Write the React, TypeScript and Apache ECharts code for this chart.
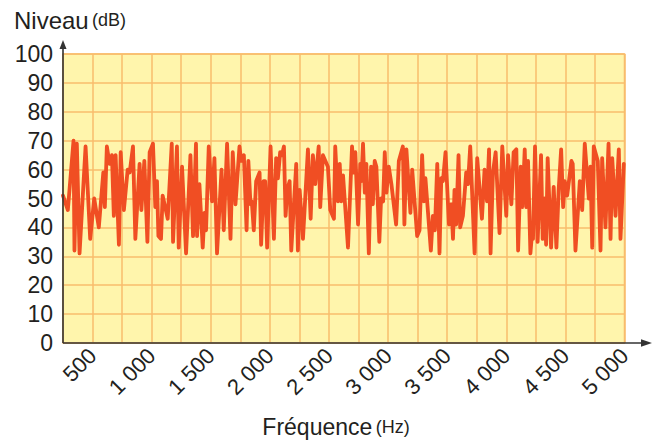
import React, { useEffect, useRef } from "react";
import * as echarts from "echarts";

const freq = [
  250, 291, 339, 347, 367, 390, 441, 480, 514, 553, 591, 604, 621, 644, 664, 680, 695, 723, 738, 765,
  797, 814, 842, 862, 898, 913, 938, 964, 983, 1011, 1031, 1045, 1057, 1079, 1093, 1136, 1170, 1181, 1214, 1229,
  1257, 1291, 1328, 1350, 1375, 1384, 1404, 1432, 1447, 1460, 1483, 1511, 1531, 1553, 1591, 1610, 1638, 1667, 1686, 1709,
  1743, 1757, 1780, 1803, 1818, 1836, 1847, 1864, 1884, 1913, 1926, 1947, 1960, 1977, 2006, 2034, 2053, 2068, 2087, 2102,
  2119, 2133, 2147, 2167, 2181, 2223, 2237, 2252, 2280, 2322, 2345, 2364, 2384, 2413, 2426, 2449, 2491, 2511, 2542, 2553,
  2576, 2591, 2604, 2619, 2661, 2695, 2709, 2723, 2746, 2765, 2774, 2788, 2803, 2816, 2837, 2856, 2871, 2887, 2901, 2926,
  2941, 2958, 2972, 2986, 3006, 3028, 3068, 3091, 3125, 3138, 3155, 3189, 3204, 3246, 3266, 3288, 3303, 3316, 3362, 3379,
  3396, 3416, 3435, 3450, 3464, 3486, 3515, 3535, 3549, 3562, 3576, 3596, 3610, 3633, 3661, 3676, 3695, 3732, 3754, 3794,
  3816, 3837, 3854, 3867, 3887, 3910, 3943, 3966, 4000, 4015, 4043, 4062, 4085, 4100, 4122, 4136, 4156, 4170, 4184, 4204,
  4218, 4226, 4243, 4265, 4294, 4308, 4322, 4337, 4350, 4379, 4401, 4424, 4443, 4464, 4481, 4494, 4515, 4551, 4562, 4585,
  4622, 4642, 4664, 4698, 4712, 4727, 4740, 4774, 4797, 4811, 4839, 4865, 4882, 4896, 4924, 4952, 4966, 4994,
];

const level = [
  51, 46, 70, 32, 69, 31, 68, 36, 50, 40, 59, 47, 68, 62, 65, 44, 65, 34, 66, 46,
  60, 59, 68, 36, 62, 46, 63, 35, 66, 69, 47, 56, 37, 36, 51, 43, 69, 35, 68, 33,
  61, 31, 65, 37, 69, 37, 55, 33, 45, 39, 68, 49, 64, 31, 60, 39, 69, 36, 66, 48,
  68, 63, 65, 39, 63, 48, 49, 39, 56, 59, 34, 56, 56, 33, 68, 36, 64, 57, 66, 65,
  68, 44, 53, 56, 32, 62, 32, 53, 36, 67, 43, 65, 55, 68, 47, 65, 61, 46, 43, 68,
  49, 62, 49, 58, 33, 68, 59, 66, 41, 62, 56, 69, 52, 62, 31, 61, 48, 63, 61, 35,
  50, 49, 66, 52, 61, 55, 41, 63, 68, 41, 67, 45, 60, 37, 39, 65, 49, 57, 32, 44,
  39, 62, 31, 57, 56, 66, 41, 48, 36, 53, 41, 65, 40, 44, 59, 55, 68, 31, 64, 43,
  60, 49, 67, 31, 59, 66, 38, 68, 44, 65, 48, 66, 67, 32, 61, 47, 67, 47, 63, 31,
  38, 36, 68, 35, 65, 36, 50, 34, 64, 33, 54, 33, 53, 67, 47, 56, 51, 63, 62, 32,
  56, 46, 69, 50, 61, 33, 68, 63, 32, 64, 40, 69, 36, 64, 44, 67, 36, 62,
];

const yTicks = [0, 10, 20, 30, 40, 50, 60, 70, 80, 90, 100];
const xLabelValues = [500, 1000, 1500, 2000, 2500, 3000, 3500, 4000, 4500, 5000];

const FONT = "Liberation Sans, Arial, Helvetica, sans-serif";
const TEXT = "#231F20";
const GRIDC = "#F8BD6C";

function fmtHz(v: number): string {
  if (!xLabelValues.includes(v)) return "";
  return v >= 1000 ? `${Math.floor(v / 1000)} ${String(v % 1000).padStart(3, "0")}` : String(v);
}

export default function App() {
  const ref = useRef<HTMLDivElement>(null);
  useEffect(() => {
    if (!ref.current) return;
    const chart = echarts.init(ref.current, undefined, { renderer: "svg" });
    const axisC = "#333333";
    chart.setOption({
      animation: false,
      grid: {
        left: 63,
        top: 54,
        right: 34.5,
        bottom: 98,
        show: true,
        backgroundColor: "#FFF5AC",
        borderColor: GRIDC,
        borderWidth: 1.5,
      },
      xAxis: {
        type: "value",
        min: 250,
        max: 5000,
        interval: 250,
        axisLine: { show: false },
        axisTick: { show: false },
        splitLine: { show: true, lineStyle: { color: GRIDC, width: 1.5 } },
        axisLabel: {
          rotate: 45,
          fontSize: 22,
          color: TEXT,
          fontFamily: FONT,
          margin: 9,
          showMinLabel: true,
          showMaxLabel: true,
          formatter: (v: number) => fmtHz(v),
        },
      },
      yAxis: {
        type: "value",
        min: yTicks[0],
        max: yTicks[yTicks.length - 1],
        interval: 10,
        axisLine: { show: false },
        axisTick: { show: false },
        splitLine: { show: true, lineStyle: { color: GRIDC, width: 1.5 } },
        axisLabel: { fontSize: 23, color: TEXT, fontFamily: FONT, margin: 10 },
      },
      series: [
        {
          type: "line",
          showSymbol: false,
          data: freq.map((f, i) => [f, level[i]]),
          lineStyle: { color: "#F04E23", width: 3.8, join: "round", cap: "round" },
          z: 3,
        },
      ],
      graphic: [
        { type: "line", shape: { x1: 63, y1: 343, x2: 63, y2: 47 }, style: { stroke: axisC, lineWidth: 1.6 }, z: 10 },
        { type: "polygon", shape: { points: [[63, 40], [59.5, 49], [66.5, 49]] }, style: { fill: axisC }, z: 10 },
        { type: "line", shape: { x1: 63, y1: 343, x2: 645, y2: 343 }, style: { stroke: axisC, lineWidth: 1.6 }, z: 10 },
        { type: "polygon", shape: { points: [[652, 343], [641, 339.3], [641, 346.7]] }, style: { fill: axisC }, z: 10 },
        {
          type: "text",
          x: 14,
          y: 32,
          style: {
            text: "{a|Niveau} {b|(dB)}",
            verticalAlign: "bottom",
            rich: {
              a: { fontSize: 24, fontFamily: FONT, fill: TEXT, color: TEXT },
              b: { fontSize: 18, fontFamily: FONT, fill: TEXT, color: TEXT },
            },
          },
          z: 10,
        },
        {
          type: "text",
          x: 336,
          y: 438,
          style: {
            text: "{a|Fréquence} {b|(Hz)}",
            align: "center",
            verticalAlign: "bottom",
            rich: {
              a: { fontSize: 23, fontFamily: FONT, fill: TEXT, color: TEXT },
              b: { fontSize: 18, fontFamily: FONT, fill: TEXT, color: TEXT },
            },
          },
          z: 10,
        },
      ],
    });
    return () => chart.dispose();
  }, []);
  return (
    <div
      ref={ref}
      style={{ position: "absolute", left: 0, top: 0, width: 659, height: 441, background: "#ffffff" }}
    />
  );
}
